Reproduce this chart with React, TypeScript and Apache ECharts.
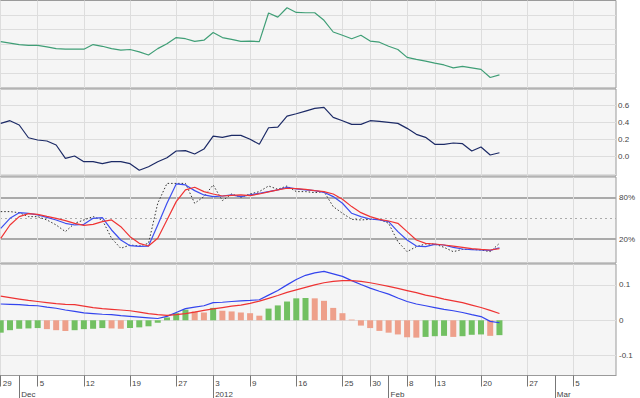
import React, { useEffect, useRef } from "react";
import * as echarts from "echarts";

// x positions are trading-day slots (0 = 29 Nov 2011)
const tickSlots = [0, 4, 9, 14, 19, 23, 27, 32, 37, 40, 44, 47, 52, 57, 62];
const tickLabels = ["29", "5", "12", "19", "27", "3", "9", "16", "25", "30", "8", "13", "20", "27", "5"];
const monthSlots = [2, 23, 42, 60];
const monthLabels = ["Dec", "2012", "Feb", "Mar"];

const price = [
  1.359, 1.354, 1.349, 1.346, 1.346, 1.341, 1.335, 1.333, 1.333, 1.333,
  1.349, 1.343, 1.335, 1.330, 1.332, 1.324, 1.313, 1.335, 1.352, 1.373,
  1.369, 1.360, 1.364, 1.390, 1.373, 1.367, 1.360, 1.361, 1.359, 1.457,
  1.443, 1.475, 1.459, 1.458, 1.458, 1.432, 1.392, 1.381, 1.369, 1.381,
  1.361, 1.357, 1.343, 1.332, 1.305, 1.298, 1.292, 1.285, 1.279, 1.269,
  1.274, 1.269, 1.264, 1.236, 1.245,
];

const indicator = [
  0.387, 0.418, 0.368, 0.220, 0.194, 0.182, 0.136, -0.019, 0.008, -0.058,
  -0.058, -0.081, -0.058, -0.058, -0.081, -0.158, -0.116, -0.058, -0.012, 0.066,
  0.070, 0.031, 0.089, 0.240, 0.225, 0.248, 0.248, 0.202, 0.144, 0.336,
  0.344, 0.472, 0.499, 0.530, 0.561, 0.573, 0.457, 0.418, 0.376, 0.376,
  0.418, 0.410, 0.399, 0.387, 0.329, 0.260, 0.225, 0.144, 0.144, 0.159,
  0.151, 0.066, 0.113, 0.020, 0.046,
];

const stochFast = [
  59.4, 59.4, 57.9, 52.2, 52.2, 47.4, 40.2, 30.6, 42.6, 47.4,
  52.2, 47.4, 21.0, 6.6, 11.4, 9.9, 13.8, 71.4, 100, 100,
  100, 71.4, 81.0, 97.8, 75.2, 84.8, 80.0, 84.8, 88.2, 96.3,
  91.5, 96.3, 88.2, 88.2, 86.7, 88.2, 66.6, 57.0, 48.3, 47.4,
  48.3, 48.3, 42.6, 16.2, 1.8, 9.0, 12.8, 12.8, 8.0, 1.8,
  5.1, 5.1, 4.2, 1.8, 13.8,
];

const stochK = [
  35.4, 49.8, 57.9, 57.0, 54.6, 51.2, 47.4, 42.6, 40.2, 41.1,
  49.8, 50.7, 33.0, 18.6, 10.4, 9.4, 9.9, 40.2, 71.4, 99.2,
  97.8, 89.6, 83.4, 81.0, 81.9, 83.4, 81.0, 83.4, 85.8, 88.2,
  90.6, 94.4, 92.0, 90.6, 89.6, 87.2, 81.0, 71.4, 57.0, 52.2,
  48.8, 47.4, 45.0, 30.6, 18.6, 9.9, 9.0, 12.3, 11.4, 8.0,
  5.6, 4.6, 4.2, 3.7, 7.5,
];

const stochD = [
  21.0, 40.2, 52.2, 56.5, 55.5, 52.6, 49.8, 46.4, 42.6, 39.7,
  41.1, 45.0, 47.4, 37.8, 23.4, 13.8, 9.9, 21.0, 47.4, 73.8,
  90.6, 94.4, 88.2, 84.8, 81.9, 82.9, 83.4, 82.4, 84.8, 87.7,
  90.6, 93.0, 92.5, 91.5, 89.6, 88.2, 84.8, 77.1, 66.6, 57.9,
  52.2, 48.3, 45.9, 42.6, 30.6, 18.6, 13.8, 12.8, 11.4, 9.9,
  8.0, 6.1, 5.1, 4.2, 6.1,
];

const macd = [
  0.046, 0.045, 0.044, 0.042, 0.041, 0.037, 0.034, 0.029, 0.025, 0.021,
  0.019, 0.017, 0.016, 0.013, 0.011, 0.009, 0.007, 0.005, 0.011, 0.022,
  0.033, 0.037, 0.041, 0.050, 0.051, 0.053, 0.055, 0.056, 0.058, 0.071,
  0.084, 0.100, 0.115, 0.127, 0.134, 0.138, 0.131, 0.124, 0.112, 0.101,
  0.091, 0.082, 0.074, 0.063, 0.053, 0.046, 0.041, 0.036, 0.031, 0.027,
  0.022, 0.016, 0.0105, -0.003, -0.007,
];

const signal = [
  0.068, 0.064, 0.060, 0.056, 0.053, 0.050, 0.047, 0.045, 0.044, 0.040,
  0.036, 0.033, 0.031, 0.029, 0.027, 0.023, 0.019, 0.016, 0.014, 0.016,
  0.019, 0.023, 0.028, 0.032, 0.036, 0.040, 0.043, 0.048, 0.054, 0.062,
  0.070, 0.079, 0.086, 0.093, 0.100, 0.106, 0.110, 0.112, 0.112, 0.110,
  0.106, 0.101, 0.096, 0.090, 0.084, 0.078, 0.071, 0.066, 0.060, 0.055,
  0.050, 0.043, 0.036, 0.028, 0.019,
];

const hist = [
  -0.035, -0.028, -0.024, -0.023, -0.022, -0.025, -0.028, -0.030, -0.028, -0.025,
  -0.024, -0.022, -0.023, -0.024, -0.022, -0.020, -0.017, -0.007, 0.008, 0.020,
  0.030, 0.025, 0.022, 0.035, 0.027, 0.025, 0.022, 0.020, 0.013, 0.033,
  0.042, 0.053, 0.062, 0.063, 0.062, 0.055, 0.035, 0.020, 0.002, -0.015,
  -0.022, -0.030, -0.035, -0.040, -0.048, -0.049, -0.047, -0.045, -0.044, -0.047,
  -0.045, -0.041, -0.040, -0.044, -0.042,
];

const X_MIN = -0.08;
const X_MAX = 66.62;
const FONT = 'Arial, "Liberation Sans", sans-serif';
const BG = "#f5f5f5";
const BORDER = "#9a9a9a";
const GRIDLINE = "#dddddd";

const pairs = (arr: number[]) => arr.map((v, i) => [i, v]);

export default function App() {
  const ref = useRef<HTMLDivElement>(null);

  useEffect(() => {
    if (!ref.current) return;
    const chart = echarts.init(ref.current, undefined, { renderer: "svg" });

    const dayMap: Record<number, string> = {};
    tickSlots.forEach((s, i) => (dayMap[s] = tickLabels[i]));
    const monthMap: Record<number, string> = {};
    monthSlots.forEach((s, i) => (monthMap[s] = monthLabels[i]));

    const gridBase = {
      left: 0,
      width: 616,
      show: true,
      backgroundColor: BG,
      borderColor: BORDER,
      borderWidth: 1,
      containLabel: false,
      outerBoundsMode: "none",
    };

    const hiddenX = (gridIndex: number) => ({
      type: "value",
      gridIndex,
      min: X_MIN,
      max: X_MAX,
      axisLine: { show: false, onZero: false },
      axisTick: { show: false, customValues: tickSlots },
      axisLabel: { show: false, customValues: tickSlots },
      splitLine: { show: true, lineStyle: { color: GRIDLINE, width: 1 } },
    });

    const labelStyle = { fontSize: 8, color: "#444", fontFamily: FONT };

    const option: any = {
      animation: false,
      backgroundColor: "#ffffff",
      grid: [
        { ...gridBase, top: 0.5, height: 87.5 },
        { ...gridBase, top: 89, height: 87 },
        { ...gridBase, top: 177, height: 86 },
        { ...gridBase, top: 264, height: 111.5 },
      ],
      xAxis: [
        hiddenX(0),
        hiddenX(1),
        hiddenX(2),
        {
          type: "value",
          gridIndex: 3,
          min: X_MIN,
          max: X_MAX,
          position: "bottom",
          axisLine: { show: true, onZero: false, lineStyle: { color: BORDER, width: 1 } },
          axisTick: {
            show: true,
            customValues: tickSlots,
            length: 11,
            lineStyle: { color: "#777" },
          },
          axisLabel: {
            show: true,
            customValues: tickSlots,
            formatter: (v: number) => dayMap[Math.round(v)] ?? "",
            align: "left",
            padding: [0, 0, 0, 2],
            margin: 4,
            ...labelStyle,
          },
          splitLine: { show: true, lineStyle: { color: GRIDLINE, width: 1 } },
        },
        {
          type: "value",
          gridIndex: 3,
          min: X_MIN,
          max: X_MAX,
          position: "bottom",
          offset: 0,
          axisLine: { show: false, onZero: false },
          axisTick: {
            show: true,
            customValues: monthSlots,
            length: 23,
            lineStyle: { color: "#777" },
          },
          axisLabel: {
            show: true,
            customValues: monthSlots,
            formatter: (v: number) => monthMap[Math.round(v)] ?? "",
            align: "left",
            padding: [0, 0, 0, 2],
            margin: 15,
            ...labelStyle,
          },
          splitLine: { show: false },
        },
      ],
      yAxis: [
        {
          type: "value",
          gridIndex: 0,
          min: 1.2,
          max: 1.5,
          axisLine: { show: false, onZero: false },
          axisTick: { show: false, customValues: [1.25, 1.3, 1.35, 1.4, 1.45] },
          axisLabel: { show: false, customValues: [1.25, 1.3, 1.35, 1.4, 1.45] },
          splitLine: { show: true, lineStyle: { color: GRIDLINE } },
        },
        {
          type: "value",
          gridIndex: 1,
          position: "right",
          min: -0.224,
          max: 0.786,
          axisLine: { show: false, onZero: false },
          axisTick: { show: false, customValues: [-0.2, 0, 0.2, 0.4, 0.6] },
          axisLabel: {
            show: true,
            customValues: [0, 0.2, 0.4, 0.6],
            formatter: (v: number) => v.toFixed(1),
            margin: 2,
            ...labelStyle,
          },
          splitLine: { show: true, lineStyle: { color: GRIDLINE } },
        },
        {
          type: "value",
          gridIndex: 2,
          position: "right",
          min: -14.5,
          max: 109.2,
          axisLine: { show: false, onZero: false },
          axisTick: { show: false, customValues: [20, 80] },
          axisLabel: {
            show: true,
            customValues: [20, 80],
            formatter: (v: number) => `${Math.round(v)}%`,
            margin: 3,
            ...labelStyle,
          },
          splitLine: { show: true, lineStyle: { color: "#aaaaaa", width: 2 } },
        },
        {
          type: "value",
          gridIndex: 2,
          position: "right",
          offset: 0,
          min: -14.5,
          max: 109.2,
          axisLine: { show: false, onZero: false },
          axisTick: { show: false, customValues: [50] },
          axisLabel: { show: false, customValues: [50] },
          splitLine: { show: true, lineStyle: { color: "#aaaaaa", width: 1, type: [2, 3] } },
        },
        {
          type: "value",
          gridIndex: 3,
          position: "right",
          min: -0.156,
          max: 0.159,
          axisLine: { show: false, onZero: false },
          axisTick: { show: false, customValues: [-0.1, 0, 0.1] },
          axisLabel: {
            show: true,
            customValues: [-0.1, 0, 0.1],
            formatter: (v: number) => (Math.abs(v) < 1e-9 ? "0" : v.toFixed(1)),
            margin: 3,
            ...labelStyle,
          },
          splitLine: { show: true, lineStyle: { color: GRIDLINE } },
        },
      ],
      series: [
        {
          type: "line",
          xAxisIndex: 0,
          yAxisIndex: 0,
          data: pairs(price),
          showSymbol: false,
          lineStyle: { color: "#3f9e76", width: 1.2 },
          itemStyle: { color: "#3f9e76" },
        },
        {
          type: "line",
          xAxisIndex: 1,
          yAxisIndex: 1,
          data: pairs(indicator),
          showSymbol: false,
          lineStyle: { color: "#1c2a66", width: 1.2 },
          itemStyle: { color: "#1c2a66" },
        },
        {
          type: "line",
          xAxisIndex: 2,
          yAxisIndex: 2,
          data: pairs(stochFast),
          showSymbol: false,
          lineStyle: { color: "#333333", width: 1, type: [1.5, 2] },
          itemStyle: { color: "#333333" },
        },
        {
          type: "line",
          xAxisIndex: 2,
          yAxisIndex: 2,
          data: pairs(stochK),
          showSymbol: false,
          lineStyle: { color: "#3d4ff0", width: 1.2 },
          itemStyle: { color: "#3d4ff0" },
        },
        {
          type: "line",
          xAxisIndex: 2,
          yAxisIndex: 2,
          data: pairs(stochD),
          showSymbol: false,
          lineStyle: { color: "#f03434", width: 1.2 },
          itemStyle: { color: "#f03434" },
        },
        {
          type: "bar",
          xAxisIndex: 3,
          yAxisIndex: 4,
          barWidth: 6,
          data: hist.map((v, i) => ({
            value: [i, v],
            itemStyle: { color: i === 0 || v >= hist[i - 1] ? "#72c062" : "#eea08b" },
          })),
        },
        {
          type: "line",
          xAxisIndex: 3,
          yAxisIndex: 4,
          data: pairs(macd),
          showSymbol: false,
          lineStyle: { color: "#3344ee", width: 1.2 },
          itemStyle: { color: "#3344ee" },
        },
        {
          type: "line",
          xAxisIndex: 3,
          yAxisIndex: 4,
          data: pairs(signal),
          showSymbol: false,
          lineStyle: { color: "#ee3333", width: 1.2 },
          itemStyle: { color: "#ee3333" },
        },
      ],
    };

    chart.setOption(option);
    return () => chart.dispose();
  }, []);

  return (
    <div
      ref={ref}
      style={{ position: "absolute", left: 0, top: 0, width: 640, height: 398 }}
    />
  );
}
